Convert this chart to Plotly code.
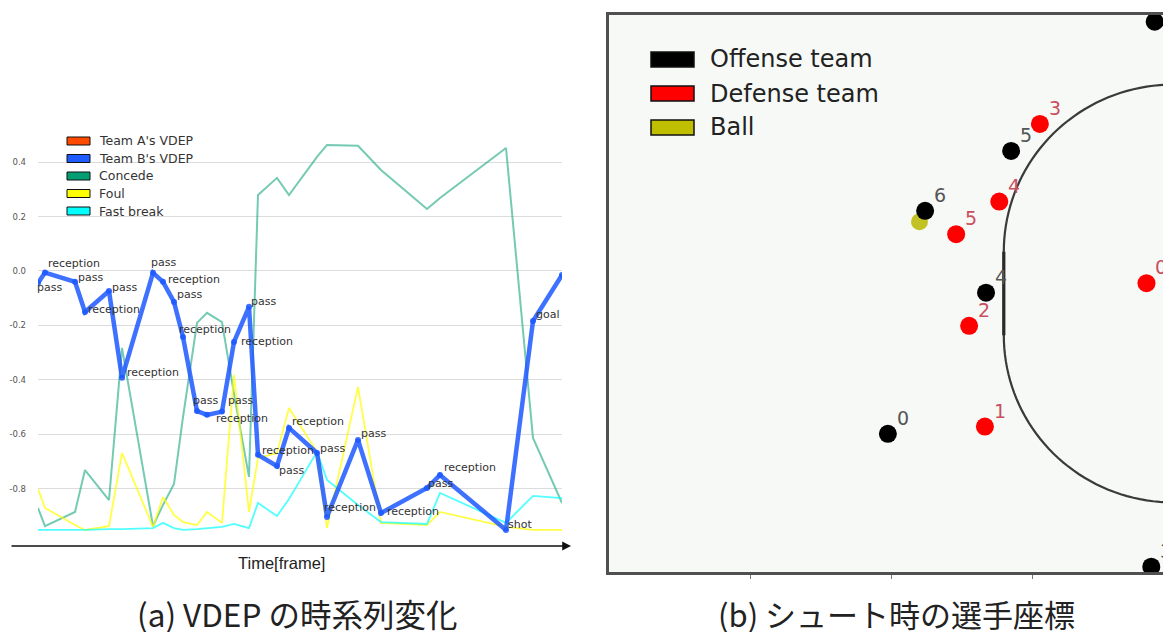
import math
import plotly.graph_objects as go

W, H = 1163, 632

# ---------------- (a) VDEP time series ----------------
FRAMES = [0, 7, 37, 47, 71, 84, 115, 125, 136, 145, 159, 169, 184, 196, 211,
          220, 239, 251, 279, 289, 320, 343, 389, 402, 468, 495, 524]
EVENTS = ["pass", "reception", "pass", "reception", "pass", "reception",
          "pass", "reception", "pass", "reception", "pass", "reception",
          "pass", "reception", "pass", "reception", "pass", "reception",
          "pass", "reception", "pass", "reception", "pass", "reception",
          "shot", "goal", ""]
VDEP_B = [-0.044, -0.006, -0.040, -0.151, -0.074, -0.393, -0.007, -0.040,
          -0.114, -0.243, -0.515, -0.529, -0.517, -0.261, -0.132, -0.676,
          -0.717, -0.577, -0.669, -0.904, -0.621, -0.890, -0.798, -0.750,
          -0.952, -0.184, -0.015]
CONCEDE = [-0.871, -0.938, -0.886, -0.732, -0.842, -0.283, -0.938, -0.860,
           -0.783, -0.537, -0.191, -0.154, -0.188, -0.452, -0.757, 0.279,
           0.342, 0.279, 0.419, 0.463, 0.460, 0.371, 0.228, 0.268, 0.452,
           -0.614, -0.853]
FOUL = [-0.801, -0.871, -0.934, -0.952, -0.938, -0.669, -0.941, -0.831,
        -0.897, -0.923, -0.934, -0.886, -0.926, -0.382, -0.886, -0.688,
        -0.669, -0.504, -0.665, -0.945, -0.426, -0.926, -0.934, -0.886,
        -0.941, -0.952, -0.952]
FAST_BREAK = [-0.952, -0.952, -0.952, -0.952, -0.949, -0.949, -0.945, -0.926,
              -0.945, -0.952, -0.949, -0.945, -0.941, -0.930, -0.945, -0.853,
              -0.901, -0.838, -0.665, -0.768, -0.860, -0.923, -0.930, -0.816,
              -0.926, -0.827, -0.835]
Y_TICKS = [0.4, 0.2, 0.0, -0.2, -0.4, -0.6, -0.8]
Y_TICK_TEXT = ["0.4", "0.2", "0.0", "-0.2", "-0.4", "-0.6", "-0.8"]
SERIES_NAMES = ["Team A's VDEP", "Team B's VDEP", "Concede", "Foul", "Fast break"]

# ---------------- (b) player positions at the shot (metres) ----------------
OFFENSE_X = [29.89, 39.35, 39.23, 33.37, 34.26, 31.21]
OFFENSE_Y = [4.96, 19.76, 0.19, 10.03, 15.12, 12.97]
OFFENSE_ID = ["0", "1", "3", "4", "5", "6"]
DEFENSE_X = [39.06, 33.33, 32.77, 35.28, 33.84, 32.31]
DEFENSE_Y = [10.37, 5.22, 8.84, 16.09, 13.30, 12.13]
DEFENSE_ID = ["0", "1", "2", "3", "4", "5"]
BALL_X = [31.01]
BALL_Y = [12.58]
COURT_NAMES = ["Offense team", "Defense team", "Ball"]

# label nudges (pixels) for the event names on the VDEP curve
LABEL_DX = [-2, 2, 2, 2, 2, 4, -3, 4, 2, -5, -5, 8, 5, 6, 1, 3, 1, 2, 2, -4,
            2, 5, 0, 3, 1, 2, 0]
LABEL_DY = [5, -9, -4, -3, -4, -5, -10, -2, -7, -8, -11, 4, -11, 0, -5, -4, 4,
            -6, -4, -9, -6, -2, -5, -7, -5, -7, 0]

BLUE = "rgba(28,88,255,0.85)"
GREEN = "rgba(2,158,115,0.55)"
YELLOW = "rgba(255,255,0,0.72)"
CYAN = "rgba(0,255,255,0.68)"
LEGEND_COLORS = ["#ff4a00", "#1f5cff", "#029e73", "#ffff00", "#00ffff"]


def px(x):
    return x / W


def py(y):
    return 1 - y / H


fig = go.Figure()

fig.add_trace(go.Scatter(x=FRAMES, y=CONCEDE, mode="lines",
                         line=dict(color=GREEN, width=2), xaxis="x", yaxis="y"))
fig.add_trace(go.Scatter(x=FRAMES, y=FOUL, mode="lines",
                         line=dict(color=YELLOW, width=1.8), xaxis="x", yaxis="y"))
fig.add_trace(go.Scatter(x=FRAMES, y=FAST_BREAK, mode="lines",
                         line=dict(color=CYAN, width=1.8), xaxis="x", yaxis="y"))
fig.add_trace(go.Scatter(x=FRAMES, y=VDEP_B, mode="lines+markers",
                         line=dict(color=BLUE, width=4.5),
                         marker=dict(color=BLUE, size=6),
                         xaxis="x", yaxis="y"))

annotations = []
for f, v, ev, dx, dy in zip(FRAMES, VDEP_B, EVENTS, LABEL_DX, LABEL_DY):
    if not ev:
        continue
    annotations.append(dict(x=f, y=v, xref="x", yref="y", text=ev,
                            showarrow=False, xanchor="left", yanchor="middle",
                            xshift=dx - 1, yshift=-dy,
                            font=dict(family="DejaVu Sans", size=11, color="#333")))

# players and ball
fig.add_trace(go.Scatter(x=BALL_X, y=BALL_Y, mode="markers",
                         marker=dict(color="rgba(184,184,0,0.85)", size=17),
                         xaxis="x2", yaxis="y2"))
fig.add_trace(go.Scatter(x=DEFENSE_X, y=DEFENSE_Y, mode="markers",
                         marker=dict(color="#ff0000", size=18),
                         xaxis="x2", yaxis="y2"))
fig.add_trace(go.Scatter(x=OFFENSE_X, y=OFFENSE_Y, mode="markers",
                         marker=dict(color="#000000", size=18),
                         xaxis="x2", yaxis="y2"))

# player numbers, up and to the right of each dot
for xs, ys, ids, col in ((DEFENSE_X, DEFENSE_Y, DEFENSE_ID, "#c8505f"),
                         (OFFENSE_X, OFFENSE_Y, OFFENSE_ID, "#555555")):
    for x, y, t in zip(xs, ys, ids):
        annotations.append(dict(x=x, y=y, xref="x2", yref="y2", text=t,
                                showarrow=False, xanchor="center",
                                yanchor="middle", xshift=15, yshift=16,
                                font=dict(family="DejaVu Sans", size=19, color=col)))

shapes = []

# court panel background
shapes.append(dict(type="rect", xref="paper", yref="paper", layer="below",
                   x0=px(609), x1=1, y0=py(572), y1=py(15),
                   fillcolor="#f7f9f7", line=dict(width=0)))

# goal-area line: two quarter circles joined by a straight segment
GOAL_X, POST_LO, POST_HI, R = 40.0, 8.5, 11.5, 6.0
path = f"M {GOAL_X},{POST_HI + R} "
n = 40
for i in range(1, n + 1):
    a = math.pi / 2 + (math.pi / 2) * i / n
    path += f"L {GOAL_X + R * math.cos(a):.4f},{POST_HI + R * math.sin(a):.4f} "
path += f"L {GOAL_X - R},{POST_LO} "
for i in range(1, n + 1):
    a = math.pi + (math.pi / 2) * i / n
    path += f"L {GOAL_X + R * math.cos(a):.4f},{POST_LO + R * math.sin(a):.4f} "
shapes.append(dict(type="path", xref="x2", yref="y2", path=path,
                   line=dict(color="#3a3a3a", width=2.2)))
shapes.append(dict(type="line", xref="x2", yref="y2",
                   x0=GOAL_X - R, x1=GOAL_X - R, y0=POST_LO, y1=POST_HI,
                   line=dict(color="#2a2a2a", width=3.2)))

# legend of the VDEP chart
for i, (name, col) in enumerate(zip(SERIES_NAMES, LEGEND_COLORS)):
    top = 137 + 17.5 * i
    shapes.append(dict(type="rect", xref="paper", yref="paper",
                       x0=px(67), x1=px(90), y0=py(top + 8), y1=py(top),
                       fillcolor=col, line=dict(color="#111", width=1)))
    annotations.append(dict(x=px(97), y=py(top + 4), xref="paper", yref="paper",
                            text=name, showarrow=False, xanchor="left",
                            yanchor="middle",
                            font=dict(family="DejaVu Sans", size=12.5, color="#333")))

# legend of the court view
for i, (name, col) in enumerate(zip(COURT_NAMES, ["#000000", "#ff0000", "#bfbf00"])):
    top = 52 + 34 * i
    shapes.append(dict(type="rect", xref="paper", yref="paper",
                       x0=px(651), x1=px(694), y0=py(top + 15), y1=py(top),
                       fillcolor=col, line=dict(color="#111", width=1.5)))
    annotations.append(dict(x=px(708), y=py(top + 7.5), xref="paper", yref="paper",
                            text=name, showarrow=False, xanchor="left",
                            yanchor="middle",
                            font=dict(family="DejaVu Sans", size=24, color="#222")))

# time axis arrow
annotations.append(dict(x=px(571), y=py(546), xref="paper", yref="paper",
                        ax=-561, ay=0, text="", showarrow=True, arrowhead=2,
                        arrowsize=1.1, arrowwidth=1.6, arrowcolor="#111"))
annotations.append(dict(x=px(281), y=py(563), xref="paper", yref="paper",
                        text="Time[frame]", showarrow=False,
                        xanchor="center", yanchor="middle",
                        font=dict(family="Liberation Sans", size=16.5, color="#222")))

# sub-figure captions
annotations.append(dict(x=px(297), y=py(613), xref="paper", yref="paper",
                        text="(a) VDEP の時系列変化", showarrow=False,
                        xanchor="center", yanchor="middle",
                        font=dict(family="Noto Sans CJK JP", size=31.5, color="#222")))
annotations.append(dict(x=px(896), y=py(613), xref="paper", yref="paper",
                        text="(b) シュート時の選手座標", showarrow=False,
                        xanchor="center", yanchor="middle",
                        font=dict(family="Noto Sans CJK JP", size=31, color="#222")))

fig.update_layout(
    width=W, height=H, autosize=False,
    margin=dict(l=0, r=0, t=0, b=0),
    paper_bgcolor="white", plot_bgcolor="rgba(0,0,0,0)",
    showlegend=False,
    xaxis=dict(domain=[px(38), px(562)], range=[0, 524], showgrid=False,
               showticklabels=False, zeroline=False, showline=False,
               fixedrange=True),
    yaxis=dict(domain=[py(546), py(130)], range=[-1.011, 0.518],
               tickvals=Y_TICKS, ticktext=Y_TICK_TEXT, showgrid=True,
               gridcolor="#dcdcdc", gridwidth=1.2, zeroline=False,
               showline=False, ticks="", ticklabelstandoff=11,
               tickfont=dict(family="DejaVu Sans", size=8.5, color="#555")),
    xaxis2=dict(domain=[px(609), 1], range=[20, 20 + 554 / 28.2], anchor="y2",
                showgrid=False, zeroline=False, showticklabels=False,
                showline=True, linecolor="#505050", linewidth=3, mirror=True,
                ticks="outside", ticklen=4, tickcolor="#777",
                tickvals=[25, 30, 35]),
    yaxis2=dict(domain=[py(572), py(15)], range=[0, 20], anchor="x2",
                showgrid=False, zeroline=False, showticklabels=False,
                showline=True, linecolor="#505050", linewidth=3, ticks=""),
    shapes=shapes,
    annotations=annotations,
)

fig.write_html("out.html")
